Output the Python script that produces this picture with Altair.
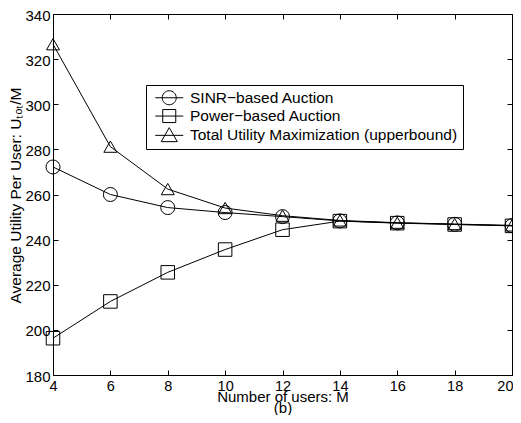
import altair as alt
import pandas as pd

M = [4, 6, 8, 10, 12, 14, 16, 18, 20]
sinr = [272.2, 260.0, 254.2, 252.0, 250.2, 248.3, 247.4, 246.8, 246.2]
power = [196.3, 212.6, 225.5, 235.6, 244.4, 248.2, 247.3, 246.7, 246.1]
total = [326.6, 281.2, 262.4, 254.0, 250.6, 248.5, 247.5, 246.9, 246.3]
series_names = [
    "SINR\u2212based Auction",
    "Power\u2212based Auction",
    "Total Utility Maximization (upperbound)",
]
x_ticks = [4, 6, 8, 10, 12, 14, 16, 18, 20]
y_ticks = [180, 200, 220, 240, 260, 280, 300, 320, 340]
x_title = ["Number of users: M", "(b)"]
y_title = "Average Utility Per User: U\u209c\u2092\u209c/M"

rows = []
for name, vals in zip(series_names, [sinr, power, total]):
    for m, v in zip(M, vals):
        rows.append({"M": m, "U": v, "series": name})
df = pd.DataFrame(rows)

FONT = "Liberation Sans"
xscale = alt.Scale(domain=[4, 20], nice=False, zero=False)
yscale = alt.Scale(domain=[180, 340], nice=False, zero=False)

tick_common = dict(offset=-5, tickSize=5, domain=False, grid=False,
                   tickColor="black", tickWidth=1)

base = alt.Chart(df)

lines = base.mark_line(color="black", strokeWidth=1).encode(
    x=alt.X("M:Q", scale=xscale, axis=alt.Axis(
        orient="bottom", values=x_ticks, labelPadding=4, labelFontSize=14.5,
        labelFont=FONT, labelColor="black", labelFlush=False, labelOverlap=False,
        labelAlign={"condition": {"test": "datum.value == 20", "value": "right"},
                    "value": "center"},
        labelOffset={"condition": {"test": "datum.value == 20", "value": 1},
                     "value": 0},
        format="d", title=x_title, titleFont=FONT, titleFontSize=15,
        titleFontWeight="normal", titleColor="black", titleY=31,
        titleBaseline="alphabetic", titleLineHeight=11, **tick_common)),
    y=alt.Y("U:Q", scale=yscale, axis=alt.Axis(
        orient="left", values=y_ticks, labelPadding=3, labelFontSize=15,
        labelFont=FONT, labelColor="black", labelFlush=False, labelOverlap=False,
        labelOffset=1,
        format="d", title=y_title, titleFont=FONT, titleFontSize=15.5,
        titleFontWeight="normal", titleColor="black", titleX=-38, titleY=181,
        titleAngle=270, titleBaseline="alphabetic", titleAlign="center",
        **tick_common)),
    detail="series:N",
)

points = base.mark_point(filled=False, color="black", strokeWidth=1, opacity=1).encode(
    x=alt.X("M:Q", scale=xscale, axis=alt.Axis(
        orient="top", values=x_ticks, labels=False, title=None, **tick_common)),
    y=alt.Y("U:Q", scale=yscale, axis=alt.Axis(
        orient="right", values=y_ticks, labels=False, title=None, **tick_common)),
    shape=alt.Shape("series:N", scale=alt.Scale(
        domain=series_names, range=["circle", "square", "triangle-up"]), legend=None),
    size=alt.Size("series:N", scale=alt.Scale(
        domain=series_names, range=[196, 169, 289]), legend=None),
)

legend_paths = [
    "M-2,0L2,0M-1,0A1,1 0 1,1 1,0A1,1 0 1,1 -1,0Z",
    "M-2,0L2,0M-0.93,-0.93L0.93,-0.93L0.93,0.93L-0.93,0.93Z",
    "M-2,0L2,0M0,-1.1L1.15,0.9L-1.15,0.9Z",
]

legend_layer = base.transform_filter("datum.M < 0").mark_point(
    filled=False, color="black", strokeWidth=1, opacity=1
).encode(
    shape=alt.Shape("series:N", scale=alt.Scale(domain=series_names, range=legend_paths),
                    legend=alt.Legend(
                        orient="none", legendX=93, legendY=71, title=None,
                        padding=5, strokeColor="black", fillColor="white",
                        symbolSize=196, symbolStrokeColor="black", symbolStrokeWidth=1,
                        symbolOffset=10.5, labelOffset=13, labelFont=FONT,
                        labelFontSize=15.5, labelColor="black", rowPadding=0.3,
                        labelLimit=400, cornerRadius=0)),
)

chart = alt.layer(lines, points, legend_layer).resolve_axis(
    x="independent", y="independent"
).resolve_scale(shape="independent").properties(
    width=459, height=361,
    autosize=alt.AutoSizeParams(type="none"),
    padding={"left": 45, "top": 6, "right": 1, "bottom": 40},
    background="white",
).configure_view(stroke="black", strokeWidth=1)

chart.save("out.html", embed_options={"renderer": "svg", "actions": False})
